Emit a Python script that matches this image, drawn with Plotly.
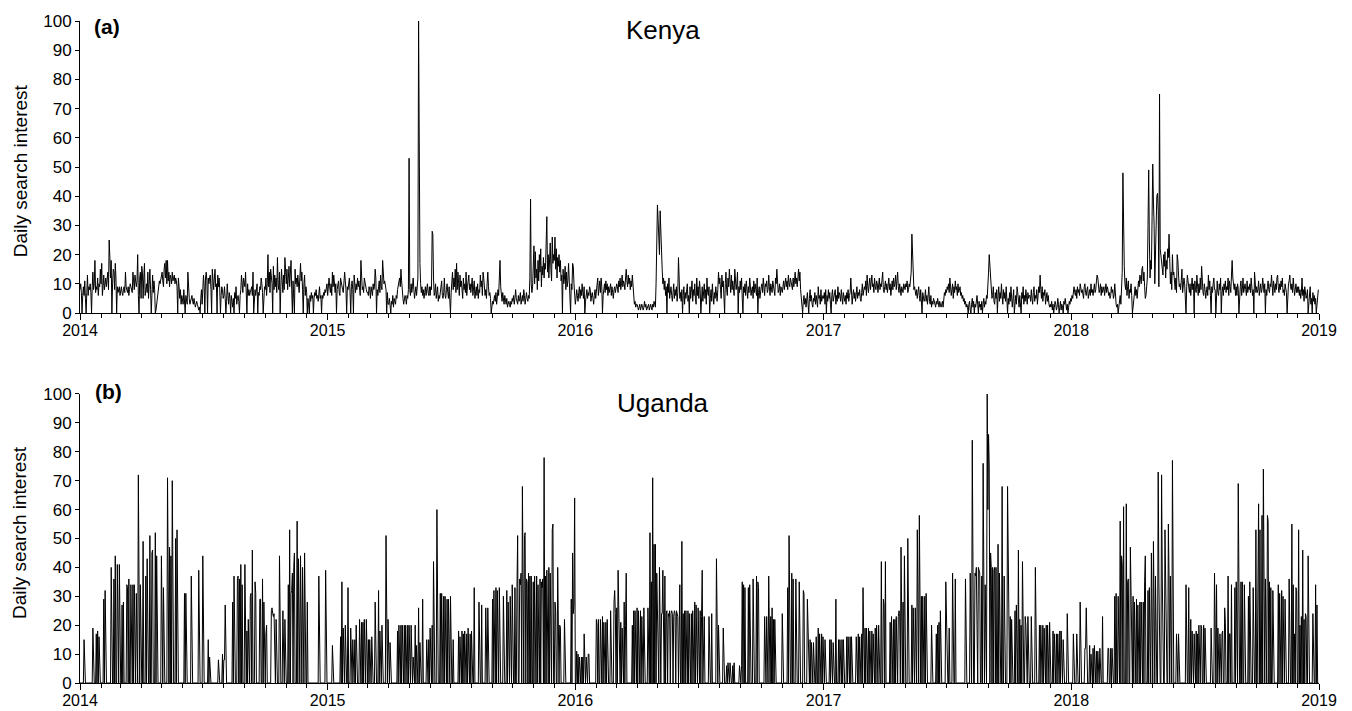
import calendar
from datetime import date, timedelta
import plotly.graph_objects as go
from plotly.subplots import make_subplots

# ---------------- data: daily search interest, one row per month ----------------
kenya_2014 = [
    [8,10,7,0,6,9,6,11,5,0,7,13,6,9,8,10,7,0,9,14,8,10,18,7,9,8,12,6,10,9,15],
    [10,17,6,9,13,8,10,12,9,11,14,8,25,19,12,18,0,10,15,14,8,17,12,0,9,7,8,9],
    [6,8,9,7,6,8,9,7,14,9,8,7,9,6,8,10,9,8,7,14,9,8,13,10,9,11,20,6,0,12,14],
    [5,16,14,5,12,17,6,9,10,7,14,5,11,15,8,0,6,13,7,11,8,0,1,3,5,7,9,11,10,12],
    [12,14,11,9,15,17,12,18,10,18,11,14,9,13,12,10,14,11,12,13,10,12,11,9,0,12,9,5,8,3,6],
    [5,3,8,4,0,6,4,3,14,7,5,3,4,5,6,4,3,5,4,2,3,4,3,2,1,2,0,5,8,3],
    [10,13,9,0,12,14,11,0,12,10,12,13,8,0,15,10,8,12,15,9,10,0,13,9,12,8,0,6,9,8,5],
    [6,9,5,0,4,10,6,3,7,5,0,6,4,2,5,0,7,5,9,3,5,6,4,0,6,8,13,9,7,12,10],
    [9,14,7,0,10,6,8,6,7,8,9,6,14,0,7,8,6,9,10,0,7,6,9,8,12,10,7,0,8,9],
    [8,12,6,10,20,9,14,7,15,11,10,0,16,8,13,9,12,7,19,10,8,14,0,9,15,11,7,13,8,19,12],
    [10,15,8,12,16,9,14,18,8,0,11,6,0,15,10,12,9,13,10,7,12,17,11,14,8,0,10,13,6,9],
    [7,0,5,3,0,6,4,7,5,6,0,5,7,6,8,5,6,4,7,9,5,6,0,6,5,7,6,8,7,9,10],
]
kenya_2015 = [
    [6,8,12,9,7,10,6,14,9,13,8,7,10,0,8,9,11,7,6,12,10,9,8,7,10,14,11,8,0,9,8],
    [10,12,7,0,9,11,8,0,13,9,7,10,8,12,9,11,7,6,18,10,8,9,7,12,10,9,8,7],
    [7,6,9,8,5,9,7,6,10,8,9,15,12,0,8,6,9,11,7,13,9,8,18,13,10,11,9,8,0,7,3],
    [3,5,2,0,4,3,6,2,5,4,3,6,5,8,9,10,12,9,15,11,6,5,3,4,6,5,3,6,5,8],
    [53,8,6,10,7,9,12,8,5,7,9,6,9,12,100,18,17,10,7,9,6,8,5,7,9,6,8,10,7,6,9],
    [6,9,8,28,27,12,6,7,10,5,8,9,4,6,5,7,9,11,6,5,7,12,6,5,8,10,7,5,9,6],
    [0,7,10,14,8,12,9,15,7,17,8,14,10,6,13,9,11,7,5,12,8,10,7,14,6,9,11,13,8,10,7],
    [9,12,6,8,11,5,7,9,6,10,5,8,7,13,9,11,6,14,12,7,6,8,5,10,14,9,6,7,5,0,3],
    [4,3,5,6,4,7,3,5,8,6,10,18,9,6,4,7,5,3,6,4,3,5,2,3,4,3,2,4,3,5],
    [4,6,3,5,8,5,4,3,6,4,5,7,3,5,6,4,8,6,3,5,7,5,4,6,5,12,39,10,7,9,14],
    [23,10,21,12,15,8,18,11,20,14,22,9,16,13,19,12,17,15,25,33,14,20,12,18,24,15,11,26,17,20],
    [18,26,15,22,12,19,16,20,14,18,11,13,0,15,10,12,16,8,14,9,11,17,12,6,0,10,8,17,16,10,5],
]
kenya_2016 = [
    [3,5,8,6,4,7,9,5,8,6,10,7,5,9,0,4,6,8,5,7,6,9,8,4,6,7,5,3,6,8,5],
    [7,9,12,6,8,11,7,12,9,0,6,8,10,7,11,8,10,6,9,7,8,10,6,9,7,5,8,9,7],
    [8,10,9,7,11,9,12,8,10,13,9,11,10,8,12,15,11,9,13,10,12,8,11,9,13,8,5,3,4,2,3],
    [3,2,1,2,3,1,2,3,2,1,2,4,2,3,1,2,2,3,1,2,3,2,1,3,2,4,3,2,10,27],
    [37,32,27,20,35,25,18,15,10,12,8,11,6,9,0,10,7,12,5,8,9,6,4,7,10,5,8,6,9,4,7],
    [19,9,5,7,4,8,0,6,9,3,7,5,8,10,4,6,0,9,5,7,11,4,8,6,10,5,3,12,6,9],
    [5,11,8,0,6,9,4,7,10,5,8,3,12,7,6,9,0,5,8,4,10,6,3,7,5,9,6,4,8,14,10],
    [12,8,5,13,9,11,7,0,10,14,8,6,12,9,15,10,7,13,8,11,9,6,15,12,8,10,14,0,9,7,11],
    [8,12,5,0,9,7,10,6,11,8,5,9,7,12,10,6,8,9,5,11,7,10,8,6,12,0,7,9,5,8],
    [9,10,7,12,8,6,10,9,11,7,8,13,9,6,10,8,7,11,9,8,6,12,10,15,9,7,8,10,6,9,8],
    [7,9,11,8,10,12,9,11,8,13,10,9,12,11,10,8,12,9,11,14,10,12,9,13,15,11,14,8,5,3],
    [0,4,6,3,5,2,4,7,3,0,5,8,4,6,3,2,5,4,7,3,6,4,2,9,5,6,3,8,4,5,6],
]
kenya_2017 = [
    [5,7,3,8,0,6,4,8,5,7,3,0,6,8,4,5,7,8,3,6,4,9,5,7,6,4,8,5,3,7,6],
    [4,6,3,7,5,8,4,6,7,12,5,3,6,8,5,7,4,6,9,5,7,6,8,5,4,7,10,6],
    [7,9,8,11,6,13,9,7,10,12,8,11,13,9,10,7,12,9,8,11,10,7,9,12,8,10,9,11,14,8,7],
    [9,11,8,10,7,9,12,8,10,6,9,11,8,12,9,10,13,8,11,14,9,7,10,8,6,9,8,7,10,9],
    [8,10,9,11,7,8,10,9,12,14,27,19,10,8,9,7,6,8,5,7,9,6,4,8,5,0,7,6,4,5,8],
    [4,6,3,5,9,4,3,6,2,4,3,5,4,3,2,4,3,5,3,2,4,3,2,3,4,2,5,7,6,8],
    [7,9,8,10,7,12,9,6,8,10,5,9,7,11,8,9,6,10,7,8,9,6,7,5,6,4,5,3,4,2,3],
    [2,0,3,4,1,0,3,5,2,4,0,3,2,5,6,3,0,4,2,3,1,4,0,3,5,2,4,3,6,5,8],
    [14,20,17,12,8,5,6,9,4,3,7,5,8,0,6,9,4,7,5,10,6,3,8,5,7,4,9,6,0,5],
    [3,7,4,9,6,2,5,8,0,4,6,3,9,7,5,2,6,4,0,7,5,9,3,6,4,8,5,3,7,5,6],
    [6,4,8,5,3,7,9,4,6,5,8,3,6,9,7,13,8,5,9,4,7,6,8,3,5,7,4,6,3,2],
    [3,2,4,1,3,0,2,4,3,1,2,5,3,0,2,4,1,3,2,0,4,3,5,2,1,3,0,2,4,3,5],
]
kenya_2018 = [
    [4,6,5,8,9,7,6,8,5,9,7,8,6,10,9,7,8,6,5,9,10,7,6,8,9,5,7,8,6,10,7],
    [8,6,9,10,7,8,11,13,12,9,7,8,10,6,9,7,8,9,6,8,10,7,9,8,6,7,5,6],
    [9,7,8,5,6,10,4,3,2,3,0,2,4,6,3,8,14,48,25,16,10,8,12,6,9,11,5,8,7,10,6],
    [0,2,5,7,9,6,8,5,7,11,9,13,12,10,15,16,11,14,9,5,6,8,12,30,49,25,12,18,15,33],
    [51,38,30,10,22,28,40,41,35,9,75,22,20,18,15,13,20,16,21,12,18,15,22,19,27,18,10,14,8,20,13],
    [14,11,8,12,7,20,18,13,9,10,8,11,15,7,9,12,10,6,0,9,13,11,8,7,10,6,9,12,8,10],
    [0,11,8,7,13,9,6,10,7,12,8,16,9,7,6,10,8,5,7,9,6,13,8,11,6,0,9,7,10,12,8],
    [8,0,9,11,7,6,10,8,12,0,7,9,6,10,8,11,7,9,8,12,6,11,9,7,13,18,12,9,8,10,6],
    [9,6,10,8,0,7,9,11,6,8,12,7,9,10,8,6,11,7,9,8,10,7,12,9,6,8,0,14,10,7],
    [9,7,8,11,6,9,10,7,8,12,9,7,10,0,8,6,9,11,8,7,10,9,13,8,6,11,9,7,10,8,12],
    [13,9,7,10,8,11,9,12,7,8,6,10,9,7,0,8,10,11,13,9,8,10,7,12,9,6,8,10,7,9],
    [7,9,6,8,5,7,12,6,8,4,9,7,5,6,8,0,4,6,9,3,5,0,7,4,6,3,5,0,4,6,8],
]

uganda_2014 = [
    [0,0,0,0,0,0,15,0,0,0,0,0,0,0,0,0,0,0,0,19,0,0,0,0,17,0,18,0,16,0,0],
    [0,0,0,0,29,0,32,0,0,0,0,0,0,0,0,40,0,0,0,36,0,44,0,0,41,0,0,41],
    [0,0,0,27,0,28,0,0,0,0,34,33,0,36,0,0,34,0,0,34,0,34,0,0,31,0,0,72,0,0,34],
    [0,0,0,49,0,0,0,37,0,43,0,0,0,51,0,0,45,46,0,0,0,52,0,44,0,0,0,0,0,0],
    [44,0,0,33,0,0,0,0,0,71,0,0,47,0,44,0,70,0,0,0,0,50,0,53,0,0,0,0,0,0,0],
    [0,0,0,31,0,31,0,0,0,0,0,0,0,37,0,0,0,0,0,0,0,0,0,0,39,0,0,0,0,0],
    [44,0,0,0,0,0,0,0,15,0,9,0,0,0,0,0,0,0,0,0,0,0,0,8,0,0,0,0,0,10,0],
    [8,8,27,0,0,0,0,0,0,0,0,0,0,28,0,37,0,0,0,0,36,37,0,36,0,41,0,34,0,0,0],
    [41,0,0,18,0,22,0,0,30,31,0,46,0,0,0,35,31,0,0,0,0,0,29,29,0,0,36,0,28,0],
    [0,17,20,0,0,0,0,0,0,25,26,24,23,24,0,0,22,0,0,0,0,44,0,0,0,0,25,0,0,22,0],
    [0,0,0,34,0,53,0,31,32,38,0,40,45,0,0,0,56,0,43,0,0,44,0,0,40,0,0,45,0,0],
    [0,28,0,0,0,0,0,0,0,0,0,0,0,0,0,0,0,0,37,0,0,0,0,0,0,0,0,0,39,0,0],
]
uganda_2015 = [
    [0,0,0,0,0,0,0,13,0,0,0,0,0,0,0,0,0,0,0,16,0,35,0,19,0,0,20,0,0,0,33],
    [0,0,0,19,0,0,15,0,0,15,0,20,0,0,0,0,22,0,0,21,0,21,0,22,0,0,22,0],
    [0,15,0,15,0,0,16,0,0,0,0,28,0,0,0,0,32,0,18,0,0,20,0,0,0,0,0,51,0,0,22],
    [0,0,14,0,0,0,0,0,0,0,0,0,0,18,0,20,0,0,20,0,20,0,0,20,0,20,0,0,20,0],
    [20,0,0,20,0,0,9,0,0,20,0,13,0,0,26,0,14,0,0,0,29,0,0,0,0,0,15,0,0,15,0],
    [19,0,0,20,0,42,0,0,0,0,60,0,0,0,0,31,0,31,0,0,30,0,30,0,0,29,0,29,0,0],
    [30,0,0,0,15,0,0,0,0,0,0,0,18,0,16,0,0,18,0,17,0,18,0,0,17,0,19,0,0,17,0],
    [18,0,0,0,33,0,0,0,0,0,0,28,0,0,0,27,0,0,0,0,0,26,0,0,26,0,0,0,0,0,0],
    [29,0,32,0,0,33,0,32,0,0,33,0,0,0,0,0,30,0,0,0,0,32,0,28,0,0,30,0,0,34],
    [0,0,0,33,0,0,33,51,0,0,36,34,38,0,68,0,0,51,52,0,36,35,0,38,0,37,0,37,0,0,35],
    [0,37,0,0,37,0,34,0,0,36,0,35,33,36,0,78,0,37,0,39,0,0,40,0,38,0,0,53,55,0],
    [0,28,25,0,0,40,0,0,20,19,0,0,0,0,0,22,0,0,0,0,0,0,0,0,0,29,0,45,24,27,64],
]
uganda_2016 = [
    [0,0,11,0,10,0,9,0,0,9,0,9,0,17,0,0,9,0,0,10,10,0,0,0,0,0,0,0,0,0,0],
    [22,20,0,22,0,0,22,0,0,23,0,21,0,0,21,0,22,0,0,0,0,25,0,0,0,0,28,32,24],
    [0,26,0,39,20,0,0,21,0,19,0,0,28,0,20,38,0,0,0,0,0,0,0,0,20,0,25,0,25,0,0],
    [26,0,25,0,0,25,0,23,0,0,26,0,0,0,0,0,26,0,0,52,0,35,0,71,0,48,0,48,0,38],
    [25,24,0,40,25,0,24,24,39,0,0,37,0,24,25,0,24,23,25,0,24,25,24,0,23,25,24,0,25,24,23],
    [0,24,34,0,0,49,0,24,0,25,0,25,0,0,25,0,24,0,0,24,0,25,0,0,28,0,27,0,0,26],
    [0,0,25,0,23,39,0,23,23,0,0,0,0,0,0,23,0,0,0,24,0,0,0,0,0,0,43,0,0,20,0],
    [0,0,0,0,0,19,0,0,0,0,6,0,7,0,0,7,0,0,0,6,0,7,0,0,0,0,0,0,0,6,0],
    [0,6,35,0,34,0,33,0,0,0,0,33,0,34,0,0,0,0,36,0,0,0,0,37,0,35,33,0,0,0],
    [0,0,0,0,0,23,0,0,23,0,0,37,0,0,23,0,26,0,22,0,22,0,0,0,0,0,0,0,0,0,0],
    [24,0,0,0,0,0,0,0,33,0,51,0,0,0,38,0,36,0,0,0,36,0,0,0,0,35,0,0,0,0],
    [0,32,31,0,0,0,0,29,15,0,0,15,0,14,0,0,14,0,0,0,16,0,0,19,0,17,0,0,17,0,16],
]
uganda_2017 = [
    [0,0,15,0,0,0,0,0,0,15,0,15,0,0,14,0,0,0,29,0,0,0,15,0,15,0,0,15,0,15,0],
    [0,0,0,16,0,16,0,0,16,0,16,0,0,0,0,0,0,16,0,0,17,0,16,0,0,17,0,33],
    [0,0,19,0,19,0,0,19,0,18,0,0,18,0,17,0,0,19,0,20,0,0,20,0,0,0,42,0,0,29,27],
    [0,42,0,0,0,0,0,0,21,0,23,0,0,22,0,22,0,23,0,0,23,25,24,0,47,0,0,28,0,44],
    [0,0,0,0,50,0,0,0,0,0,27,0,26,0,0,26,0,0,53,0,0,58,0,0,30,0,30,0,0,30,0],
    [31,0,0,0,0,0,0,0,20,0,0,0,0,0,0,17,0,20,0,21,0,25,0,0,0,0,0,0,0,35],
    [18,0,0,0,19,0,0,0,0,38,0,0,0,36,0,0,0,0,0,0,0,0,0,0,0,0,0,0,36,0,0],
    [0,0,0,0,38,0,0,84,0,0,0,38,37,40,0,0,40,39,38,0,0,37,0,76,34,0,34,0,0,100,60],
    [86,75,0,45,40,0,40,0,39,40,0,40,0,0,48,0,38,0,0,0,68,0,0,37,0,0,0,0,68,38],
    [0,0,23,0,22,0,0,0,0,25,0,27,0,0,46,0,22,0,20,0,42,0,0,0,23,20,0,0,23,0,0],
    [0,0,23,0,0,0,0,0,40,0,0,0,0,0,20,0,20,0,0,20,0,19,0,0,20,0,20,0,0,21],
    [0,0,0,0,18,0,17,0,0,17,0,17,0,0,18,0,18,0,0,15,0,0,0,0,0,24,0,0,0,0,0],
]
uganda_2018 = [
    [0,0,0,17,0,0,0,0,17,0,0,0,0,28,0,0,0,0,0,0,12,12,26,0,0,0,0,13,0,10,0],
    [0,12,0,13,0,0,11,0,11,0,0,12,0,0,0,23,0,0,0,0,0,0,0,12,12,0,0,12],
    [0,12,0,0,0,30,0,31,0,0,30,0,0,56,0,44,41,0,61,0,0,0,62,0,35,36,0,0,47,31,0],
    [0,30,0,28,0,0,29,0,27,0,0,28,0,28,0,0,28,0,35,44,0,0,0,32,0,33,0,0,45,0],
    [0,49,0,0,37,0,0,0,73,36,0,0,0,72,37,0,0,0,53,36,0,0,0,55,37,0,37,0,0,77,0],
    [0,0,0,0,17,0,0,17,0,0,0,0,0,0,0,0,0,0,34,0,0,0,33,0,0,22,0,18,0,0],
    [17,0,0,18,0,17,0,20,0,0,20,19,0,0,20,0,19,0,0,0,0,0,0,0,0,19,0,0,0,0,38],
    [0,0,34,0,19,0,0,17,0,0,17,18,0,0,26,21,0,0,0,37,0,17,17,0,34,0,0,0,0,33,0],
    [35,0,0,69,0,0,0,35,0,35,0,0,34,0,0,0,0,0,30,0,35,0,0,0,0,33,0,0,0,53],
    [0,0,35,62,0,53,0,0,58,0,74,0,0,36,0,0,58,56,0,35,0,33,0,0,32,0,0,0,0,0,0],
    [0,34,0,31,0,0,32,0,30,0,0,29,0,0,0,0,0,36,0,0,0,55,0,34,0,17,0,33,32,0],
    [0,53,0,20,0,23,0,46,0,22,0,24,23,0,0,44,0,0,0,0,0,0,24,0,0,0,34,0,27,0,0],
]

years = [2014, 2015, 2016, 2017, 2018]
year_ticks = ["2014", "2015", "2016", "2017", "2018", "2019"]
y_ticks = list(range(0, 101, 10))


def expand(year, months):
    xs, ys = [], []
    for m, row in enumerate(months, start=1):
        nd = calendar.monthrange(year, m)[1]
        start = date(year, m, 1)
        for i, v in enumerate(row[:nd]):
            xs.append(start + timedelta(days=i))
            ys.append(v)
    return xs, ys


def series(blocks):
    xs, ys = [], []
    for yr, months in zip(years, blocks):
        a, b = expand(yr, months)
        xs += a
        ys += b
    return xs, ys


kx, ky = series([kenya_2014, kenya_2015, kenya_2016, kenya_2017, kenya_2018])
ux, uy = series([uganda_2014, uganda_2015, uganda_2016, uganda_2017, uganda_2018])

FONT = "Liberation Sans, Arial, Helvetica, sans-serif"

fig = make_subplots(rows=2, cols=1)
fig.add_trace(go.Scatter(x=kx, y=ky, mode="lines", line=dict(color="black", width=1),
                         showlegend=False), row=1, col=1)
fig.add_trace(go.Scatter(x=ux, y=uy, mode="lines", line=dict(color="black", width=1),
                         showlegend=False), row=2, col=1)

xaxis_common = dict(
    type="date",
    range=["2014-01-01", "2019-01-01"],
    tickvals=[f"{y}-01-01" for y in year_ticks],
    ticktext=year_ticks,
    ticks="outside", ticklen=6, tickwidth=1, tickcolor="black",
    ticklabelstandoff=-3,
    showline=True, linecolor="black", linewidth=1,
    showgrid=False, zeroline=False, automargin=False,
    tickfont=dict(family=FONT, size=16, color="black"),
    minor=dict(dtick="M1", tick0="2014-01-01", ticks="outside", ticklen=4,
               tickwidth=1, tickcolor="black", showgrid=False),
)
yaxis_common = dict(
    range=[0, 100], tickvals=y_ticks,
    ticks="outside", ticklen=4, tickwidth=1, tickcolor="black",
    showline=True, linecolor="black", linewidth=1,
    showgrid=False, zeroline=False, automargin=False,
    tickfont=dict(family=FONT, size=17, color="black"),
)

# the page body adds an 8px margin; size the figure so the plot area
# lands at x 80..1319 and y 21..683 of the window
fig.update_layout(
    width=1344, height=703, autosize=False,
    margin=dict(l=72, r=33, t=13, b=28, autoexpand=False),
    paper_bgcolor="white", plot_bgcolor="white",
    font=dict(family=FONT, color="black"),
    xaxis=dict(domain=[0, 1], anchor="y", **xaxis_common),
    yaxis=dict(domain=[0.5589, 1.0], anchor="x", **yaxis_common),
    xaxis2=dict(domain=[0, 1], anchor="y2", **xaxis_common),
    yaxis2=dict(domain=[0.0, 0.4366], anchor="x2", **yaxis_common),
)

ann = [
    dict(text="<b>(a)</b>", x=0.0097, y=0.991, xanchor="left", yanchor="middle", size=21),
    dict(text="<b>(b)</b>", x=0.0105, y=0.4396, xanchor="left", yanchor="middle", size=21),
    dict(text="Kenya", x=0.4705, y=0.9864, xanchor="center", yanchor="middle", size=26),
    dict(text="Uganda", x=0.4705, y=0.423, xanchor="center", yanchor="middle", size=26),
]
for a in ann:
    fig.add_annotation(text=a["text"], x=a["x"], y=a["y"], xref="paper", yref="paper",
                       xanchor=a["xanchor"], yanchor=a["yanchor"], showarrow=False,
                       font=dict(family=FONT, size=a["size"], color="black"))

for ycen in (0.773, 0.2266):
    fig.add_annotation(text="Daily search interest", x=-0.0484, y=ycen,
                       xref="paper", yref="paper", xanchor="center", yanchor="middle",
                       textangle=-90, showarrow=False,
                       font=dict(family=FONT, size=19, color="black"))

fig.write_html("out.html")
